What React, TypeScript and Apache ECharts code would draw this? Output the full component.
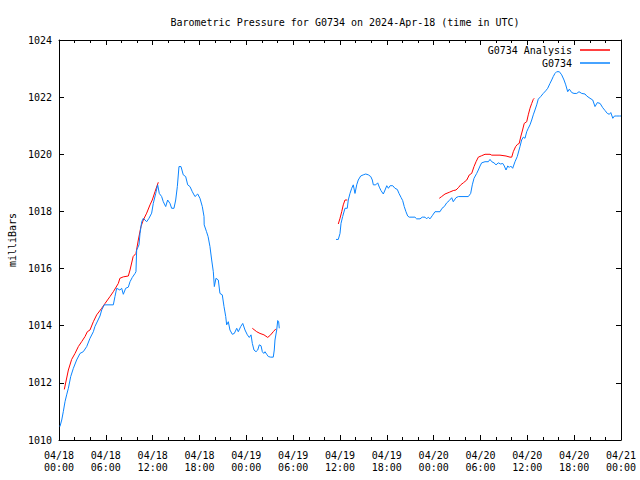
import React, { useEffect, useRef } from "react";
import * as echarts from "echarts";

const titleText = "Barometric Pressure for G0734 on 2024-Apr-18 (time in UTC)";
const yAxisTitle = "milliBars";
const analysisName = "G0734 Analysis";
const stationName = "G0734";

const xTickLabels = [
  "04/18\n00:00", "04/18\n06:00", "04/18\n12:00", "04/18\n18:00",
  "04/19\n00:00", "04/19\n06:00", "04/19\n12:00", "04/19\n18:00",
  "04/20\n00:00", "04/20\n06:00", "04/20\n12:00", "04/20\n18:00",
  "04/21\n00:00",
];

// hours since 2024-04-18 00:00 UTC ; null marks a gap in the record
const stationHours = [
  0.12, 0.35, 0.55, 0.77, 0.98, 1.2, 1.5, 1.84, 2.26, 2.69, 3.11, 3.55, 3.97, 4.4, 4.6, 5.25, 5.47, 5.8, 6.96, 7.17,
  7.39, 7.8, 8.03, 8.24, 8.54, 8.88, 9.1, 9.39, 9.74, 9.86, 9.95, 10.25, 10.38, 10.6, 10.8, 11.23, 11.53, 11.87, 12.08, 12.39,
  12.64, 12.85, 13.15, 13.36, 13.67, 13.92, 14.22, 14.43, 14.73, 14.95, 15.16, 15.37, 15.63, 15.92, 16.23, 16.49, 16.78, 17.08, 17.42, 17.77,
  18.06, 18.36, 18.58, 18.6, 18.9, 19.1, 19.34, 19.56, 19.77, 19.9, 20.11, 20.41, 20.62, 20.92, 21.14, 21.36, 21.48, 21.69, 21.9, 22.2,
  22.46, 22.77, 22.97, 23.28, 23.54, 23.83, 24.13, 24.38, 24.6, 24.77, 24.98, 25.24, 25.46, 25.66, 25.88, 26.05, 26.23, 26.39, 26.61, 26.82,
  27.12, 27.45, 27.58, 27.67, 27.89, 28.02, 28.14, 28.22,
  31.8,
  35.49, 35.78, 36.0, 36.13, 36.34, 36.64, 36.93, 37.06, 37.28, 37.5, 37.7, 37.92, 38.14, 38.34, 38.65, 38.98, 39.3, 39.63, 39.94, 40.14,
  40.27, 40.58, 40.83, 41.04, 41.25, 41.55, 41.77, 41.99, 42.2, 42.42, 42.76, 43.04, 43.34, 43.56, 43.82, 44.03, 44.23, 44.45, 44.67, 44.87,
  45.6, 45.82, 46.25, 46.54, 46.89, 47.1, 47.31, 47.53, 47.82, 48.17, 48.81, 49.07, 49.36, 49.67, 50.0, 50.31, 50.51, 50.86, 51.16, 52.44,
  52.74, 52.95, 53.17, 53.51, 53.72, 53.94, 54.15, 54.58, 55.0, 55.22, 55.44, 55.73, 55.99, 56.28, 56.59, 56.85, 57.05, 57.27, 57.49, 57.69,
  57.87, 58.12, 58.42, 58.71, 59.06, 59.27, 59.48, 59.7, 59.92, 60.12, 60.34, 60.56, 60.76, 60.98, 61.2, 61.4, 61.71, 62.04, 62.35, 62.61,
  62.9, 63.12, 63.32, 63.54, 63.76, 64.1, 64.4, 64.7, 64.92, 65.17, 65.38, 65.69, 65.98, 66.33, 66.62, 66.97, 67.39, 67.61, 68.03, 68.38,
  68.67, 68.97, 69.32, 69.66, 69.96, 70.25, 70.51, 70.69, 70.95, 71.16, 71.46, 71.8, 72.0,
];
const stationPressure = [
  1010.47, 1010.7, 1010.99, 1011.34, 1011.58, 1011.81, 1012.22, 1012.51, 1012.8, 1013.03, 1013.09, 1013.27, 1013.56, 1013.79, 1013.97, 1014.34, 1014.55, 1014.73, 1014.73, 1015.02,
  1015.31, 1015.25, 1015.31, 1015.1, 1015.31, 1015.35, 1015.54, 1015.69, 1015.83, 1015.89, 1016.65, 1016.83, 1017.23, 1017.64, 1017.76, 1017.64, 1017.76, 1017.94, 1018.28, 1018.63,
  1018.93, 1018.63, 1018.52, 1018.34, 1018.17, 1018.4, 1018.28, 1018.11, 1018.11, 1018.4, 1018.87, 1019.57, 1019.57, 1019.28, 1019.22, 1018.93, 1018.87, 1018.69, 1018.52, 1018.61,
  1018.46, 1018.17, 1017.82, 1017.53, 1017.29, 1017.12, 1016.77, 1016.3, 1015.89, 1015.37, 1015.66, 1015.6, 1015.13, 1015.08, 1014.67, 1014.32, 1014.03, 1014.14, 1013.85, 1013.7,
  1013.73, 1013.91, 1013.79, 1013.97, 1014.08, 1013.85, 1013.68, 1013.59, 1013.68, 1013.38, 1013.15, 1013.09, 1013.15, 1013.33, 1013.3, 1013.09, 1013.03, 1013.09, 1013.0, 1012.92,
  1012.9, 1012.9, 1013.15, 1013.5, 1013.85, 1014.18, 1014.14, 1013.91,
  null,
  1017.02, 1017.02, 1017.23, 1017.58, 1017.82, 1018.11, 1018.11, 1018.4, 1018.63, 1018.81, 1018.93, 1018.63, 1018.93, 1019.1, 1019.24, 1019.28, 1019.31, 1019.28, 1019.22, 1019.1,
  1018.93, 1018.93, 1019.0, 1018.85, 1018.73, 1018.61, 1018.75, 1018.9, 1018.81, 1018.9, 1018.9, 1018.81, 1018.77, 1018.63, 1018.49, 1018.38, 1018.17, 1017.99, 1017.84, 1017.8,
  1017.8, 1017.74, 1017.74, 1017.8, 1017.8, 1017.74, 1017.8, 1017.74, 1017.85, 1017.99, 1017.99, 1018.11, 1018.17, 1018.3, 1018.38, 1018.48, 1018.34, 1018.48, 1018.52, 1018.52,
  1018.63, 1018.93, 1019.16, 1019.33, 1019.45, 1019.59, 1019.7, 1019.74, 1019.74, 1019.82, 1019.74, 1019.7, 1019.63, 1019.7, 1019.66, 1019.68, 1019.59, 1019.45, 1019.59, 1019.54,
  1019.59, 1019.51, 1019.74, 1019.92, 1020.27, 1020.5, 1020.6, 1020.56, 1020.79, 1020.91, 1021.03, 1021.2, 1021.38, 1021.55, 1021.73, 1021.93, 1022.02, 1022.13, 1022.22, 1022.31,
  1022.48, 1022.6, 1022.72, 1022.83, 1022.89, 1022.89, 1022.78, 1022.6, 1022.43, 1022.19, 1022.28, 1022.16, 1022.13, 1022.13, 1022.19, 1022.13, 1022.11, 1022.04, 1021.96, 1021.9,
  1021.67, 1021.81, 1021.78, 1021.63, 1021.53, 1021.43, 1021.4, 1021.46, 1021.26, 1021.34, 1021.34, 1021.34, 1021.34,
];

const analysisHours = [
  0.68, 1.2, 1.62, 2.05, 2.48, 2.9, 3.33, 3.63, 3.97, 4.4, 4.83, 5.47, 5.9, 6.53, 6.96, 7.6, 7.8, 8.24, 8.88, 9.1,
  9.5, 9.86, 10.16, 10.5, 10.8, 11.23, 11.66, 11.95, 12.3, 12.72,
  18.0,
  24.77, 25.33, 25.75, 26.26, 26.74, 27.12, 27.45, 27.79,
  31.0,
  35.78, 36.0, 36.22, 36.42, 36.64, 36.93,
  42.0,
  48.72, 49.02, 49.45, 50.0, 50.51, 50.86, 51.16, 51.46, 51.8, 52.24, 52.57, 52.87, 53.17, 53.43, 53.72, 54.15, 54.58, 55.22, 55.44, 56.5,
  57.27, 57.78, 58.0, 58.2, 58.5, 58.75, 58.96, 59.18, 59.39, 59.6, 59.92, 60.12, 60.34, 60.56, 60.76, 60.88,
];
const analysisPressure = [
  1011.77, 1012.45, 1012.82, 1013.03, 1013.27, 1013.44, 1013.62, 1013.79, 1013.85, 1014.14, 1014.38, 1014.61, 1014.78, 1015.02, 1015.19, 1015.48, 1015.66, 1015.71, 1015.74, 1015.95,
  1016.42, 1016.53, 1017.0, 1017.47, 1017.7, 1017.94, 1018.23, 1018.4, 1018.69, 1019.02,
  null,
  1013.91, 1013.79, 1013.73, 1013.68, 1013.59, 1013.68, 1013.79, 1013.89,
  null,
  1017.56, 1017.76, 1017.99, 1018.23, 1018.4, 1018.4,
  null,
  1018.46, 1018.52, 1018.61, 1018.67, 1018.73, 1018.75, 1018.83, 1018.93, 1019.0, 1019.1, 1019.28, 1019.33, 1019.57, 1019.74, 1019.9, 1019.95, 1020.0, 1020.0, 1019.97, 1019.97,
  1019.94, 1019.9, 1019.9, 1020.09, 1020.27, 1020.35, 1020.38, 1020.64, 1020.85, 1021.08, 1021.14, 1021.38, 1021.61, 1021.78, 1021.92, 1021.96,
];

const FONT = "'DejaVu Sans Mono', 'Liberation Mono', monospace";

export default function App() {
  const ref = useRef<HTMLDivElement>(null);
  useEffect(() => {
    document.body.style.margin = "0";
    if (!ref.current) return;
    const chart = echarts.init(ref.current, undefined, { renderer: "svg" });
    const pair = (xs: number[], ys: (number | null)[]) => xs.map((x, i) => [x, ys[i] === null ? "-" : ys[i]]);
    const tickStyle = { show: true, inside: true, length: 5, lineStyle: { color: "#000", width: 1 } };
    const minorStyle = { show: true, splitNumber: 3, length: 3, lineStyle: { color: "#000", width: 1 } };
    const baseX = {
      type: "value",
      min: 0,
      max: 72,
      interval: 6,
      splitLine: { show: false },
      axisLine: { show: true, onZero: false, lineStyle: { color: "#000", width: 1 } },
      axisTick: tickStyle,
      minorTick: minorStyle,
    };
    const baseY = {
      type: "value",
      min: 1010,
      max: 1024,
      interval: 2,
      splitLine: { show: false },
      axisLine: { show: true, onZero: false, lineStyle: { color: "#000", width: 1 } },
      axisTick: tickStyle,
    };
    chart.setOption({
      animation: false,
      backgroundColor: "#fff",
      textStyle: { fontFamily: FONT },
      title: {
        text: titleText,
        left: 340,
        textAlign: "center",
        top: 12,
        textStyle: { fontFamily: FONT, fontSize: 10, fontWeight: "normal", color: "#000" },
      },
      legend: {
        orient: "vertical",
        right: 30,
        top: 44,
        padding: 0,
        itemGap: 1,
        align: "right",
        icon: "rect",
        itemWidth: 30,
        itemHeight: 1.5,
        selectedMode: false,
        textStyle: { fontFamily: FONT, fontSize: 10, color: "#000", lineHeight: 12, padding: [0, 3, 0, 0] },
        data: [analysisName, stationName],
      },
      grid: { left: 59, right: 19, top: 40, bottom: 40, containLabel: false, outerBoundsMode: "none" },
      xAxis: [
        {
          ...baseX,
          position: "bottom",
          axisLabel: {
            show: true,
            margin: 9,
            fontFamily: FONT,
            fontSize: 10,
            color: "#000",
            lineHeight: 12,
            formatter: (v: number) => xTickLabels[Math.round(v / 6)] ?? "",
          },
        },
        { ...baseX, position: "top", axisLabel: { show: false } },
      ],
      yAxis: [
        {
          ...baseY,
          position: "left",
          name: yAxisTitle,
          nameLocation: "middle",
          nameRotate: 90,
          nameGap: 42,
          nameTextStyle: { fontFamily: FONT, fontSize: 10, color: "#000" },
          axisLabel: {
            show: true,
            margin: 7,
            fontFamily: FONT,
            fontSize: 10,
            color: "#000",
            formatter: (v: number) => String(v),
          },
        },
        { ...baseY, position: "right", axisLabel: { show: false } },
      ],
      series: [
        {
          name: analysisName,
          type: "line",
          data: pair(analysisHours, analysisPressure),
          showSymbol: false,
          connectNulls: false,
          color: "#ff0000",
          lineStyle: { color: "#ff0000", width: 1 },
          emphasis: { disabled: true },
          silent: true,
        },
        {
          name: stationName,
          type: "line",
          data: pair(stationHours, stationPressure),
          showSymbol: false,
          connectNulls: false,
          color: "#0a84ff",
          lineStyle: { color: "#0a84ff", width: 1 },
          emphasis: { disabled: true },
          silent: true,
        },
      ],
    });
    return () => chart.dispose();
  }, []);
  return <div ref={ref} style={{ width: 640, height: 480 }} />;
}
